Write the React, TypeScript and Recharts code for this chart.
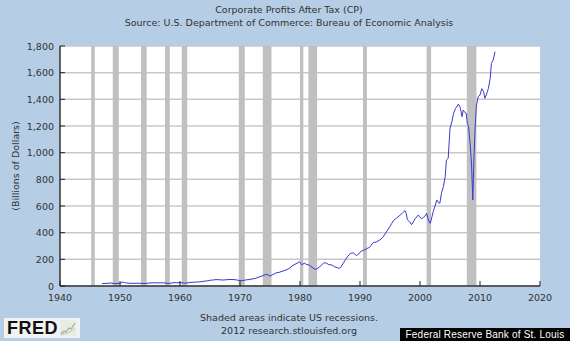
import React from 'react';
import { ComposedChart, Line, XAxis, YAxis, CartesianGrid, ReferenceArea } from 'recharts';

const years: number[] = [
  1947.0, 1947.5, 1948.0, 1948.5, 1949.0, 1949.5, 1950.0, 1950.5, 1950.75, 1951.0, 1951.5, 1952.0, 1952.5, 1953.0, 1953.5, 1954.0, 1954.5,
  1955.0, 1955.5, 1956.0, 1956.5, 1957.0, 1957.5, 1958.0, 1958.5, 1959.0, 1959.5, 1960.0, 1960.5, 1961.0, 1961.5, 1962.0, 1962.5,
  1963.0, 1963.5, 1964.0, 1964.5, 1965.0, 1965.5, 1966.0, 1966.5, 1967.0, 1967.5, 1968.0, 1968.5, 1969.0, 1969.5, 1970.0, 1970.5,
  1971.0, 1971.5, 1972.0, 1972.5, 1973.0, 1973.5, 1974.0, 1974.5, 1975.0, 1975.5, 1976.0, 1976.5, 1977.0, 1977.5, 1978.0, 1978.5,
  1979.0, 1979.5, 1979.9, 1980.25, 1980.5, 1980.8, 1981.0, 1981.5, 1982.0, 1982.5, 1982.8, 1983.3, 1983.9, 1984.3, 1984.8, 1985.3,
  1985.7, 1986.2, 1986.5, 1986.8, 1987.2, 1987.6, 1988.0, 1988.4, 1988.9, 1989.4, 1989.8, 1990.2, 1990.6, 1991.1, 1991.6, 1992.2,
  1992.7, 1993.3, 1993.8, 1994.4, 1994.9, 1995.3, 1995.6, 1996.1, 1996.7, 1997.1, 1997.5, 1997.7, 1997.9, 1998.3, 1998.6, 1999.0,
  1999.2, 1999.5, 1999.7, 2000.0, 2000.3, 2000.6, 2000.8, 2001.1, 2001.4, 2001.7, 2002.0, 2002.2, 2002.5, 2002.8, 2003.1, 2003.3,
  2003.6, 2003.9, 2004.2, 2004.4, 2004.7, 2005.0, 2005.3, 2005.6, 2005.9, 2006.2, 2006.4, 2006.7, 2007.0, 2007.2, 2007.5, 2007.7,
  2007.9, 2008.1, 2008.4, 2008.6, 2008.8, 2009.0, 2009.2, 2009.4, 2009.7, 2010.0, 2010.3, 2010.6, 2010.8, 2011.1, 2011.4, 2011.7,
  2011.9, 2012.2, 2012.5,
];

const profits: number[] = [
  18, 19, 21, 22, 19, 18, 21, 30, 26, 23, 21, 20, 20, 21, 20, 19, 20,
  23, 24, 24, 23, 24, 23, 19, 21, 26, 24, 26, 23, 22, 25, 28, 29,
  30, 32, 36, 38, 43, 45, 48, 47, 45, 46, 48, 49, 48, 45, 40, 41,
  46, 48, 53, 56, 65, 72, 82, 88, 74, 86, 98, 102, 110, 118, 126, 143,
  160, 170, 182, 160, 165, 172, 162, 158, 140, 125, 128, 145, 170, 175, 160, 158,
  145, 138, 132, 140, 170, 200, 225, 245, 248, 228, 240, 262, 268, 280, 290, 325,
  330, 345, 365, 405, 440, 470, 492, 510, 532, 548, 565, 545, 497, 480, 460, 490,
  507, 520, 532, 515, 505, 515, 522, 545, 495, 470, 520, 557, 600, 645, 625, 620,
  700, 745, 820, 945, 957, 1182, 1230, 1295, 1330, 1350, 1365, 1340, 1270, 1320, 1300, 1295,
  1220, 1195, 1045, 900, 645, 970, 1200, 1350, 1420, 1432, 1480, 1457, 1407, 1440, 1482, 1557,
  1670, 1695, 1757,
];

const recessionStarts: number[] = [1945.2, 1948.8, 1953.5, 1957.5, 1960.3, 1969.8, 1973.8, 1980.0, 1981.4, 1990.5, 2001.1, 2007.8];
const recessionEnds: number[] = [1945.8, 1949.8, 1954.45, 1958.3, 1961.2, 1970.8, 1975.25, 1980.55, 1982.85, 1991.15, 2001.85, 2009.4];

const xTicks: number[] = [1940, 1950, 1960, 1970, 1980, 1990, 2000, 2010, 2020];
const yTicks: number[] = [0, 200, 400, 600, 800, 1000, 1200, 1400, 1600, 1800];

const titleLine1 = 'Corporate Profits After Tax (CP)';
const titleLine2 = 'Source: U.S. Department of Commerce: Bureau of Economic Analysis';
const yLabel = '(Billions of Dollars)';
const footer1 = 'Shaded areas indicate US recessions.';
const footer2 = '2012 research.stlouisfed.org';
const bankName = 'Federal Reserve Bank of St. Louis';

const data = years.map((y, i) => ({ year: y, cp: profits[i] }));

const FONT = '"DejaVu Sans", Verdana, sans-serif';
const TEXT = '#333333';

const XTick = (props: any) => {
  const { x, y, payload } = props;
  return (
    <g>
      <line x1={x} y1={y} x2={x} y2={y - 5} stroke="#222" strokeWidth={1} />
      <text x={x} y={y + 15} textAnchor="middle" fill={TEXT} fontSize={9.5} fontFamily={FONT}>
        {payload.value}
      </text>
    </g>
  );
};

const YTick = (props: any) => {
  const { x, y, payload } = props;
  return (
    <g>
      <line x1={x} y1={y} x2={x + 5} y2={y} stroke="#222" strokeWidth={1} />
      <text x={x - 6} y={y + 3.5} textAnchor="end" fill={TEXT} fontSize={9.5} fontFamily={FONT}>
        {Number(payload.value).toLocaleString('en-US')}
      </text>
    </g>
  );
};

export default function App() {
  return (
    <div style={{ position: 'absolute', left: 0, top: 0, width: 570, height: 341, background: '#b5cde5', overflow: 'hidden', fontFamily: FONT }}>
      <div style={{ position: 'absolute', left: 0, width: 578, top: 3, textAlign: 'center', fontSize: 9.5, color: TEXT, lineHeight: '13px' }}>
        <div>{titleLine1}</div>
        <div>{titleLine2}</div>
      </div>
      <div style={{ position: 'absolute', left: 0, top: 0 }}>
        <ComposedChart width={570} height={341} data={data} margin={{ top: 46, right: 30, bottom: 35, left: 0 }}>
          <CartesianGrid vertical={false} horizontal={true} stroke="#c8c8c8" strokeWidth={1.5} fill="#ffffff" />
          {recessionStarts.map((s, i) => (
            <ReferenceArea key={i} x1={s} x2={recessionEnds[i]} y1={0} y2={1800} fill="#c0c0c0" fillOpacity={1} stroke="none" ifOverflow="hidden" />
          ))}
          <XAxis
            dataKey="year"
            type="number"
            domain={[1940, 2020]}
            ticks={xTicks}
            interval={0}
            height={20}
            tickSize={0}
            tickMargin={0}
            tick={<XTick />}
            axisLine={{ stroke: '#333', strokeWidth: 1.5 }}
            allowDataOverflow
          />
          <YAxis
            type="number"
            domain={[0, 1800]}
            ticks={yTicks}
            interval={0}
            width={60}
            tickSize={0}
            tickMargin={0}
            tick={<YTick />}
            axisLine={{ stroke: '#333', strokeWidth: 1.5 }}
            allowDataOverflow
          />
          <Line type="linear" dataKey="cp" stroke="#3a3ad0" strokeWidth={1} dot={false} isAnimationActive={false} />
        </ComposedChart>
      </div>
      <div style={{ position: 'absolute', left: 15, top: 166, width: 0, height: 0 }}>
        <div style={{ position: 'absolute', transform: 'translate(-50%, -50%) rotate(-90deg)', whiteSpace: 'nowrap', fontSize: 9.5, color: TEXT }}>
          {yLabel}
        </div>
      </div>
      <div style={{ position: 'absolute', left: 0, width: 578, top: 311, textAlign: 'center', fontSize: 9.5, color: TEXT, lineHeight: '13px' }}>
        <div>{footer1}</div>
        <div>{footer2}</div>
      </div>
      <div style={{ position: 'absolute', left: 4, top: 318, width: 76, height: 20, background: '#f2f2f2', display: 'flex', alignItems: 'center' }}>
        <span style={{ fontFamily: '"Liberation Sans", Arial, sans-serif', fontWeight: 900, fontSize: 18, color: '#111', letterSpacing: 0.5, marginLeft: 3 }}>FRED</span>
        <svg width={16} height={16} style={{ marginLeft: 2 }}>
          <rect x={0} y={0} width={16} height={16} fill="#e8ece4" />
          <polyline points="1,14 4,11 6,12 9,8 11,9 15,3" fill="none" stroke="#9ab48a" strokeWidth={1.2} />
          <polyline points="1,15 5,13 8,13 11,11 15,8" fill="none" stroke="#b8c8a8" strokeWidth={1} />
        </svg>
      </div>
      <div style={{ position: 'absolute', left: 400, top: 328, width: 170, height: 13, background: '#000', color: '#fff', fontFamily: '"Liberation Sans", Arial, sans-serif', fontSize: 10, lineHeight: '13px', textAlign: 'center', letterSpacing: 0.2 }}>
        {bankName}
      </div>
    </div>
  );
}
